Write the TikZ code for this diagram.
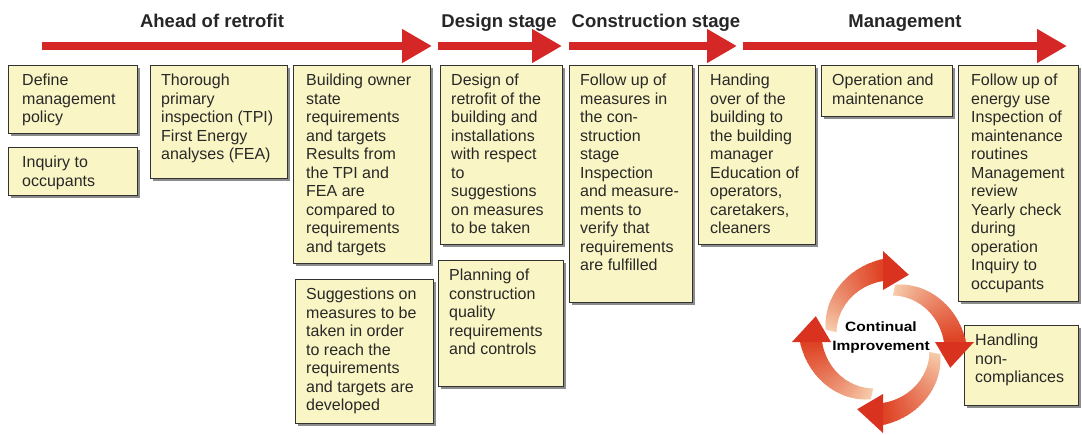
\documentclass[tikz,border=0pt]{standalone}
\usepackage{fontspec}
\usepackage{graphicx}
\setmainfont{Liberation Sans}
\usetikzlibrary{arrows.meta,shadows}

\definecolor{boxfill}{RGB}{249,245,196}
\definecolor{boxline}{RGB}{50,50,50}
\definecolor{stagered}{RGB}{213,40,38}
\definecolor{cyclelight}{RGB}{246,205,172}
\definecolor{cyclewarm}{RGB}{222,64,34}
\definecolor{cyclered}{RGB}{217,50,30}
\definecolor{ink}{RGB}{40,40,40}

\tikzset{
  stagebox/.style={draw=boxline, line width=1.4pt, fill=boxfill, inner sep=0pt,
    anchor=north west,
    drop shadow={shadow xshift=2.2pt, shadow yshift=-2.2pt, fill=black!45, opacity=1}},
  boxtext/.style={anchor=north west, inner sep=0pt, align=left, text=ink,
    font=\fontsize{16}{18.5}\selectfont, xshift=12pt, yshift=-7.5pt},
  stagearrow/.style={draw=stagered, line width=8pt, -{Triangle[length=30pt,width=32pt]}},
  stagelabel/.style={anchor=base, font=\fontsize{18.5}{20}\selectfont\bfseries, text=black!85},
}

% point of a cycle arrow body: base angle, radius, parameter t along the arc
\newcommand\cyc[3]{({883+(#2)*cos(#1+78-78*#3)}, {-342+(#2)*sin(#1+78-78*#3)})}

\begin{document}
\begin{tikzpicture}[x=1pt,y=1pt]
\useasboundingbox (0,0) rectangle (1082,-434);
\fill[white] (0,0) rectangle (1082,-434);

% stage arrows and headings
\coordinate (s1a) at (42,-46);  \coordinate (s1b) at (432,-46);
\coordinate (s2a) at (438,-46); \coordinate (s2b) at (562,-46);
\coordinate (s3a) at (569,-46); \coordinate (s3b) at (737,-46);
\coordinate (s4a) at (743,-46); \coordinate (s4b) at (1067,-46);
\draw[stagearrow] (s1a) -- (s1b);
\draw[stagearrow] (s2a) -- (s2b);
\draw[stagearrow] (s3a) -- (s3b);
\draw[stagearrow] (s4a) -- (s4b);

\node[stagelabel] (l1) at (212,-27) {Ahead of retrofit};
\node[stagelabel] (l2) at (499,-27) {Design stage};
\node[stagelabel] (l3) at (656,-27) {Construction stage};
\node[stagelabel] (l4) at (905,-27) {Management};

% activity boxes
\node[stagebox, minimum width=129pt, minimum height=68pt] (b1) at (8,-65) {};
\node[boxtext, xshift=2pt] (t1) at (b1.north west) {\strut Define\\management\\policy};

\node[stagebox, minimum width=129pt, minimum height=48pt] (b2) at (8,-147) {};
\node[boxtext, xshift=2pt] (t2) at (b2.north west) {\strut Inquiry to\\occupants};

\node[stagebox, minimum width=137pt, minimum height=113pt] (b3) at (150,-65) {};
\node[boxtext, xshift=-1pt] (t3) at (b3.north west) {\strut Thorough\\primary\\inspection (TPI)\\First Energy\\analyses (FEA)};

\node[stagebox, minimum width=137pt, minimum height=198pt] (b4) at (293,-65) {};
\node[boxtext, xshift=1pt] (t4) at (b4.north west) {\strut Building owner\\state\\requirements\\and targets\\Results from\\the TPI and\\FEA are\\compared to\\requirements\\and targets};

\node[stagebox, minimum width=138pt, minimum height=144pt] (b5) at (295,-279) {};
\node[boxtext, xshift=-1pt] (t5) at (b5.north west) {\strut Suggestions on\\measures to be\\taken in order\\to reach the\\requirements\\and targets are\\developed};

\node[stagebox, minimum width=122pt, minimum height=179pt] (b6) at (440,-65) {};
\node[boxtext, xshift=-1pt] (t6) at (b6.north west) {\strut Design of\\retrofit of the\\building and\\installations\\with respect\\to\\suggestions\\on measures\\to be taken};

\node[stagebox, minimum width=125pt, minimum height=126pt] (b7) at (438,-260) {};
\node[boxtext, xshift=-1pt] (t7) at (b7.north west) {\strut Planning of\\construction\\quality\\requirements\\and controls};

\node[stagebox, minimum width=123pt, minimum height=237pt] (b8) at (569,-65) {};
\node[boxtext, xshift=-1pt] (t8) at (b8.north west) {\strut Follow up of\\measures in\\the con-\\struction\\stage\\Inspection\\and measure-\\ments to\\verify that\\requirements\\are fulfilled};

\node[stagebox, minimum width=117pt, minimum height=179pt] (b9) at (698,-65) {};
\node[boxtext] (t9) at (b9.north west) {\strut Handing\\over of the\\building to\\the building\\manager\\Education of\\operators,\\caretakers,\\cleaners};

\node[stagebox, minimum width=131pt, minimum height=51pt] (b10) at (821,-65) {};
\node[boxtext, xshift=-1pt] (t10) at (b10.north west) {\strut Operation and\\maintenance};

\node[stagebox, minimum width=120pt, minimum height=236pt] (b11) at (958,-65) {};
\node[boxtext, xshift=1pt] (t11) at (b11.north west) {\strut Follow up of\\energy use\\Inspection of\\maintenance\\routines\\Management\\review\\Yearly check\\during\\operation\\Inquiry to\\occupants};

\node[stagebox, minimum width=114pt, minimum height=80pt] (b12) at (964,-325) {};
\node[boxtext, xshift=-1pt] (t12) at (b12.north west) {\strut Handling\\non-\\compliances};

% continual improvement cycle: four tapering curved arrows,
% each body built from short slices that darken towards the head
\foreach \b in {90,0,-90,180}{
  \foreach \i in {0,...,29}{
    \pgfmathsetmacro\ta{\i/30}
    \pgfmathsetmacro\tb{(\i+1.4)/30}
    \pgfmathtruncatemacro\pc{100*(\i+0.5)/30}
    \fill[cyclewarm!\pc!cyclelight]
      \cyc{\b}{58.5+24.5*\ta}{\ta} -- \cyc{\b}{58.5+24.5*\tb}{\tb}
      -- \cyc{\b}{47.5+13.5*\tb}{\tb} -- \cyc{\b}{47.5+13.5*\ta}{\ta} -- cycle;
  }
  \fill[cyclered]
    ({883+91*cos(\b)}, {-342+91*sin(\b)})
    -- ({883+72*cos(\b-21)}, {-342+72*sin(\b-21)})
    -- ({883+52*cos(\b)}, {-342+52*sin(\b)}) -- cycle;
}
\node[font=\fontsize{13.5}{19}\selectfont\bfseries, align=center, text=black, inner sep=0pt]
  (ci) at (881,-338) {\scalebox{1.15}[1]{Continual}\\\scalebox{1.15}[1]{Improvement}};

\end{tikzpicture}
\end{document}
